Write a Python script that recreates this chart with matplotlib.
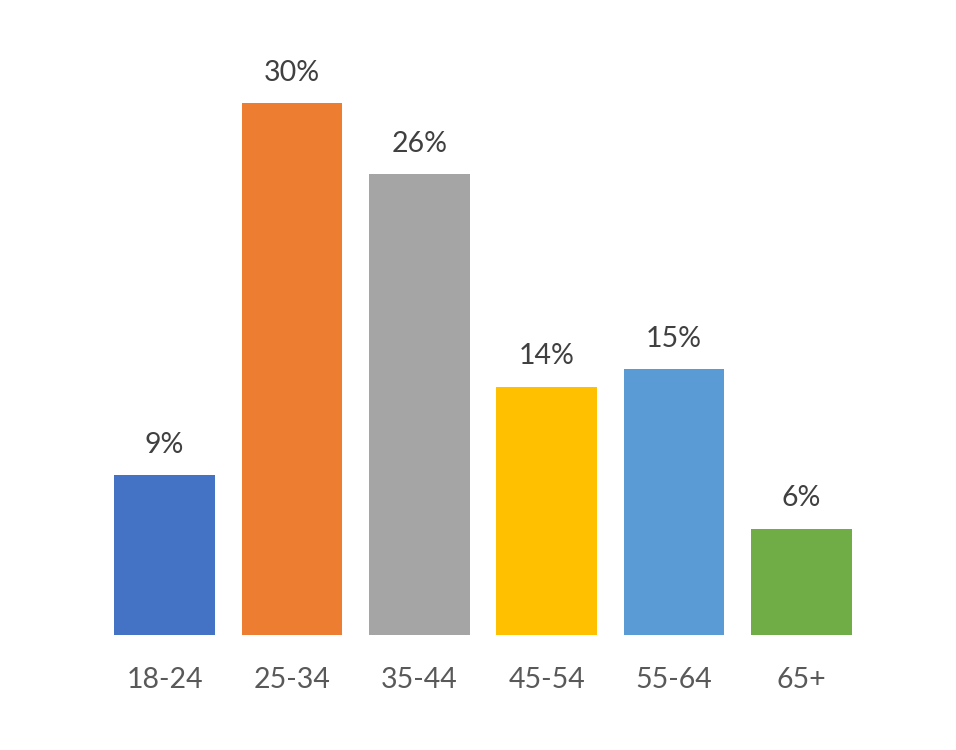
import matplotlib
matplotlib.use("Agg")
import matplotlib.pyplot as plt

categories = ["18-24", "25-34", "35-44", "45-54", "55-64", "65+"]
values = [9, 30, 26, 14, 15, 6]
labels = ["9%", "30%", "26%", "14%", "15%", "6%"]
colors = ["#4472C4", "#ED7D31", "#A5A5A5", "#FFC000", "#5B9BD5", "#70AD47"]

plt.rcParams['font.family'] = ['Lato', 'DejaVu Sans']

fig = plt.figure(figsize=(9.56, 7.5), dpi=100)
W, H = 956, 750
left, right, bottom, top = 101, 865, 115, 700
ax = fig.add_axes([left / W, bottom / H, (right - left) / W, (top - bottom) / H])

x = list(range(len(categories)))
bars = ax.bar(x, values, width=0.79, color=colors)
ax.set_xlim(-0.5, len(categories) - 0.5)
ax.set_ylim(0, 33)

for b, lab in zip(bars, labels):
    ax.annotate(lab, (b.get_x() + b.get_width() / 2, b.get_height()),
                xytext=(0, 12.5), textcoords="offset points",
                ha="center", va="bottom", fontsize=20.5, color="#404040")

ax.set_xticks(x)
ax.set_xticklabels(categories, fontsize=20.5, color="#595959")
ax.tick_params(axis="x", length=0, pad=23)
ax.set_yticks([])
for s in ax.spines.values():
    s.set_visible(False)

fig.savefig("out.png", dpi=100)
